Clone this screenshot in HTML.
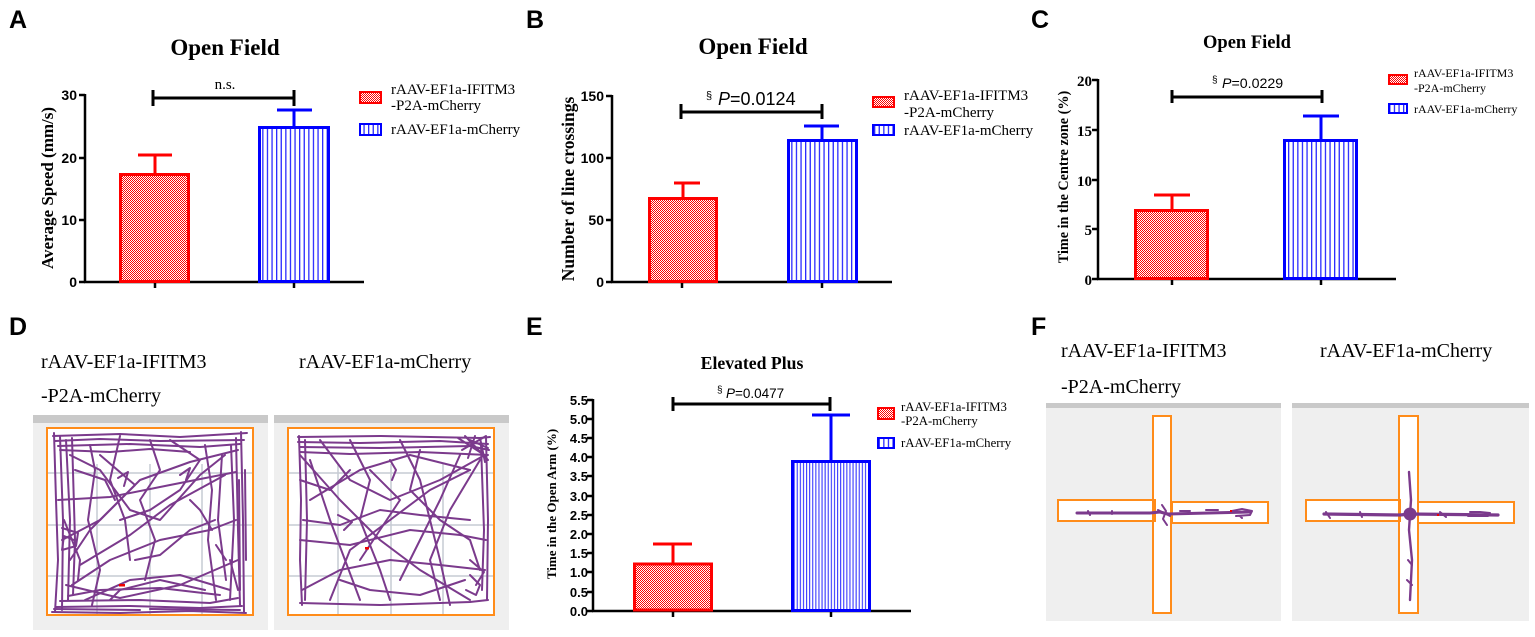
<!DOCTYPE html>
<html><head><meta charset="utf-8"><style>
html,body{margin:0;padding:0;background:#fff;}
svg{display:block;}
.lbl{font-family:"Liberation Sans",sans-serif;font-weight:bold;font-size:25px;fill:#000;}
.ttl{font-family:"Liberation Serif",serif;font-weight:bold;fill:#000;}
.tk{font-family:"Liberation Sans",sans-serif;font-weight:bold;font-size:14px;fill:#000;}
.tke{font-family:"Liberation Sans",sans-serif;font-weight:bold;font-size:13px;fill:#000;}
.tks{font-family:"Liberation Serif",serif;font-weight:bold;font-size:15px;fill:#000;}
.ser{font-family:"Liberation Serif",serif;fill:#000;}
.san{font-family:"Liberation Sans",sans-serif;fill:#000;}
.tr{fill:none;stroke:#7b3a8c;stroke-width:2;stroke-linejoin:round;stroke-linecap:round;}
</style></head><body>
<svg width="1535" height="637" viewBox="0 0 1535 637" xmlns="http://www.w3.org/2000/svg">
<defs>
<pattern id="chk" width="2" height="2" patternUnits="userSpaceOnUse">
<rect width="2" height="2" fill="#fff"/><rect width="1" height="1" fill="#f00"/><rect x="1" y="1" width="1" height="1" fill="#f00"/>
</pattern>
<pattern id="str" width="4.6" height="10" patternUnits="userSpaceOnUse">
<rect width="4.6" height="10" fill="#fff"/><rect x="0" width="1.3" height="10" fill="#2a2aff"/>
</pattern>
<pattern id="str2" width="3.1" height="10" patternUnits="userSpaceOnUse">
<rect width="3.1" height="10" fill="#fff"/><rect x="0" width="1.1" height="10" fill="#3a3aff"/>
</pattern>
</defs>

<!-- Panel letters -->
<text class="lbl" x="9" y="28">A</text>
<text class="lbl" x="526" y="28">B</text>
<text class="lbl" x="1031" y="28">C</text>
<text class="lbl" x="9" y="335">D</text>
<text class="lbl" x="526" y="335">E</text>
<text class="lbl" x="1031" y="335">F</text>

<!-- ===== Panel A ===== -->
<text class="ttl" x="225" y="55" font-size="23" text-anchor="middle">Open Field</text>
<text class="ttl" transform="translate(53,188) rotate(-90)" font-size="17" text-anchor="middle">Average Speed (mm/s)</text>
<g stroke="#000" stroke-width="2.5" fill="none">
<line x1="85" y1="94" x2="85" y2="283"/>
<line x1="84" y1="282" x2="364" y2="282"/>
<line x1="79" y1="95" x2="85" y2="95"/><line x1="79" y1="158" x2="85" y2="158"/><line x1="79" y1="220" x2="85" y2="220"/><line x1="79" y1="282" x2="85" y2="282"/>
<line x1="155" y1="282" x2="155" y2="288"/><line x1="294" y1="282" x2="294" y2="288"/>
</g>
<text class="tk" x="77" y="100" text-anchor="end">30</text>
<text class="tk" x="77" y="163" text-anchor="end">20</text>
<text class="tk" x="77" y="225" text-anchor="end">10</text>
<text class="tk" x="77" y="287" text-anchor="end">0</text>
<rect x="120.5" y="174.5" width="68" height="107" fill="url(#chk)" stroke="#f00" stroke-width="3"/>
<g stroke="#f00" stroke-width="3"><line x1="155" y1="174" x2="155" y2="155"/><line x1="138" y1="155" x2="172" y2="155"/></g>
<rect x="259.5" y="127.5" width="69" height="154" fill="url(#str)" stroke="#00f" stroke-width="3"/>
<g stroke="#00f" stroke-width="3"><line x1="294" y1="127" x2="294" y2="110"/><line x1="277" y1="110" x2="312" y2="110"/></g>
<g stroke="#000" stroke-width="3"><line x1="153" y1="98" x2="294" y2="98"/><line x1="153" y1="90" x2="153" y2="106"/><line x1="294" y1="90" x2="294" y2="106"/></g>
<text class="ser" x="225" y="89" font-size="15" text-anchor="middle">n.s.</text>
<rect x="360" y="92" width="21" height="11" fill="url(#chk)" stroke="#f00" stroke-width="2"/>
<text class="ser" x="391" y="94" font-size="15">rAAV-EF1a-IFITM3</text>
<text class="ser" x="391" y="110" font-size="15">-P2A-mCherry</text>
<rect x="360" y="124" width="21" height="11" fill="url(#str)" stroke="#00f" stroke-width="2"/>
<text class="ser" x="391" y="134" font-size="15">rAAV-EF1a-mCherry</text>

<!-- ===== Panel B ===== -->
<text class="ttl" x="753" y="54" font-size="23" text-anchor="middle">Open Field</text>
<text class="ttl" transform="translate(574,189) rotate(-90)" font-size="17.5" text-anchor="middle">Number of line crossings</text>
<g stroke="#000" stroke-width="2.5" fill="none">
<line x1="612" y1="95" x2="612" y2="283"/>
<line x1="611" y1="282" x2="892" y2="282"/>
<line x1="606" y1="96" x2="612" y2="96"/><line x1="606" y1="158" x2="612" y2="158"/><line x1="606" y1="220" x2="612" y2="220"/><line x1="606" y1="282" x2="612" y2="282"/>
<line x1="682" y1="282" x2="682" y2="288"/><line x1="822" y1="282" x2="822" y2="288"/>
</g>
<text class="tk" x="604" y="101" text-anchor="end">150</text>
<text class="tk" x="604" y="163" text-anchor="end">100</text>
<text class="tk" x="604" y="225" text-anchor="end">50</text>
<text class="tk" x="604" y="287" text-anchor="end">0</text>
<rect x="649.5" y="198.5" width="67" height="83" fill="url(#chk)" stroke="#f00" stroke-width="3"/>
<g stroke="#f00" stroke-width="3"><line x1="683" y1="198" x2="683" y2="183"/><line x1="674" y1="183" x2="700" y2="183"/></g>
<rect x="788.5" y="140.5" width="68" height="141" fill="url(#str)" stroke="#00f" stroke-width="3"/>
<g stroke="#00f" stroke-width="3"><line x1="822" y1="140" x2="822" y2="126"/><line x1="804" y1="126" x2="839" y2="126"/></g>
<g stroke="#000" stroke-width="3"><line x1="681" y1="112" x2="822" y2="112"/><line x1="681" y1="104" x2="681" y2="119"/><line x1="822" y1="104" x2="822" y2="119"/></g>
<text class="san" x="706" y="99" font-size="11">§</text>
<text class="san" x="718" y="105" font-size="18"><tspan font-style="italic">P</tspan>=0.0124</text>
<rect x="873" y="97" width="21" height="10" fill="url(#chk)" stroke="#f00" stroke-width="2"/>
<text class="ser" x="904" y="100" font-size="15">rAAV-EF1a-IFITM3</text>
<text class="ser" x="904" y="117" font-size="15">-P2A-mCherry</text>
<rect x="873" y="125" width="21" height="10" fill="url(#str)" stroke="#00f" stroke-width="2"/>
<text class="ser" x="904" y="135" font-size="15">rAAV-EF1a-mCherry</text>

<!-- ===== Panel C ===== -->
<text class="ttl" x="1247" y="48" font-size="18.5" text-anchor="middle">Open Field</text>
<text class="ttl" transform="translate(1068,177) rotate(-90)" font-size="14.2" text-anchor="middle">Time in the Centre zone (%)</text>
<g stroke="#000" stroke-width="2.5" fill="none">
<line x1="1098" y1="79" x2="1098" y2="280"/>
<line x1="1097" y1="279" x2="1396" y2="279"/>
<line x1="1092" y1="80" x2="1098" y2="80"/><line x1="1092" y1="130" x2="1098" y2="130"/><line x1="1092" y1="180" x2="1098" y2="180"/><line x1="1092" y1="229" x2="1098" y2="229"/><line x1="1092" y1="279" x2="1098" y2="279"/>
<line x1="1172" y1="279" x2="1172" y2="285"/><line x1="1321" y1="279" x2="1321" y2="285"/>
</g>
<text class="tks" x="1092" y="86" text-anchor="end">20</text>
<text class="tks" x="1092" y="136" text-anchor="end">15</text>
<text class="tks" x="1092" y="186" text-anchor="end">10</text>
<text class="tks" x="1092" y="235" text-anchor="end">5</text>
<text class="tks" x="1092" y="285" text-anchor="end">0</text>
<rect x="1135.5" y="210.5" width="72" height="68" fill="url(#chk)" stroke="#f00" stroke-width="3"/>
<g stroke="#f00" stroke-width="3"><line x1="1172" y1="210" x2="1172" y2="195"/><line x1="1154" y1="195" x2="1190" y2="195"/></g>
<rect x="1284.5" y="140.5" width="72" height="138" fill="url(#str)" stroke="#00f" stroke-width="3"/>
<g stroke="#00f" stroke-width="3"><line x1="1321" y1="140" x2="1321" y2="116"/><line x1="1303" y1="116" x2="1339" y2="116"/></g>
<g stroke="#000" stroke-width="3"><line x1="1172" y1="97" x2="1322" y2="97"/><line x1="1172" y1="90" x2="1172" y2="103"/><line x1="1322" y1="90" x2="1322" y2="103"/></g>
<text class="san" x="1212" y="83" font-size="10">§</text>
<text class="san" x="1222" y="88" font-size="14.2"><tspan font-style="italic">P</tspan>=0.0229</text>
<rect x="1389" y="75" width="18" height="9" fill="url(#chk)" stroke="#f00" stroke-width="2"/>
<text class="ser" x="1414" y="77" font-size="12">rAAV-EF1a-IFITM3</text>
<text class="ser" x="1414" y="92" font-size="12">-P2A-mCherry</text>
<rect x="1389" y="104" width="18" height="9" fill="url(#str)" stroke="#00f" stroke-width="2"/>
<text class="ser" x="1414" y="113" font-size="12">rAAV-EF1a-mCherry</text>

<!-- ===== Panel D ===== -->
<text class="ser" x="41" y="368" font-size="20">rAAV-EF1a-IFITM3</text>
<text class="ser" x="41" y="402" font-size="20">-P2A-mCherry</text>
<text class="ser" x="299" y="368" font-size="20">rAAV-EF1a-mCherry</text>
<rect x="33" y="415" width="235" height="215" fill="#efefef"/>
<rect x="33" y="415" width="235" height="8" fill="#c9c9c9"/>
<rect x="274" y="415" width="235" height="215" fill="#efefef"/>
<rect x="274" y="415" width="235" height="8" fill="#c9c9c9"/>
<rect x="47" y="428" width="206" height="187" fill="#fff" stroke="#ff8c1a" stroke-width="2"/>
<rect x="288" y="428" width="206" height="187" fill="#fff" stroke="#ff8c1a" stroke-width="2"/>
<g stroke="#c6cbd3" stroke-width="1.5">
<line x1="97" y1="464" x2="97" y2="614"/><line x1="150" y1="464" x2="150" y2="614"/><line x1="202" y1="464" x2="202" y2="614"/>
<line x1="48" y1="473" x2="252" y2="473"/><line x1="48" y1="525" x2="252" y2="525"/><line x1="48" y1="576" x2="252" y2="576"/>
<line x1="338" y1="464" x2="338" y2="614"/><line x1="391" y1="464" x2="391" y2="614"/><line x1="443" y1="464" x2="443" y2="614"/>
<line x1="289" y1="473" x2="493" y2="473"/><line x1="289" y1="525" x2="493" y2="525"/><line x1="289" y1="576" x2="493" y2="576"/>
</g>
<g class="tr">
<path d="M53 436 L120 434 L180 437 L247 433"/>
<path d="M55 441 L100 439 L160 441 L244 440"/>
<path d="M58 446 L130 444 L200 447 L240 444"/>
<path d="M60 450 L110 452 L150 449 L190 452"/>
<path d="M54 433 L56 500 L58 560 L55 612"/>
<path d="M60 436 L63 520 L62 610"/>
<path d="M66 440 L70 520 L68 600"/>
<path d="M72 438 L75 540 L73 595"/>
<path d="M62 528 L78 533 L76 546 L62 550 L64 536 L74 540"/>
<path d="M241 432 L243 520 L244 612"/>
<path d="M236 438 L238 530 L240 605"/>
<path d="M231 445 L234 520 L230 600"/>
<path d="M245 470 L246 560 M239 480 L240 590"/>
<path d="M52 612 L120 613 L190 611 L246 613"/>
<path d="M56 607 L130 606 L200 608 L242 606"/>
<path d="M60 601 L140 600 L210 603 L238 598"/>
<path d="M68 596 L100 590 L160 588 L220 595"/>
<path d="M54 609 L140 610 M150 609 L240 610"/>
<path d="M70 455 L100 470 L130 510 L160 520 L200 475 L225 455"/>
<path d="M62 540 L100 520 L140 480 L190 462 L238 450"/>
<path d="M72 585 L110 560 L160 540 L210 530 L236 520"/>
<path d="M80 565 L130 535 L170 505 L225 475"/>
<path d="M90 445 L95 470 L88 520 L100 570 L92 605"/>
<path d="M120 436 L110 480 L125 520 L130 560"/>
<path d="M150 440 L160 470 L140 500 L155 540 L145 580"/>
<path d="M58 500 L110 497 L170 485 L236 472"/>
<path d="M66 585 L120 598 L180 585 L238 560"/>
<path d="M205 445 L212 490 L208 540 L216 600"/>
<path d="M222 455 L218 520 L226 580"/>
<path d="M100 455 L135 485 L90 530 L70 560"/>
<path d="M85 600 L130 580 L180 575 L230 590"/>
<path d="M110 600 L120 590 L160 580 L205 590"/>
<path d="M170 440 L200 460 L180 490 L150 510 L120 520"/>
<path d="M135 560 L160 555 L190 530 L215 520"/>
<path d="M75 470 L105 480 L115 500"/>
<path d="M190 500 L200 510 L212 530"/>
<path d="M118 478 L128 472 L124 486 M180 475 L190 468 L186 480"/>
<path d="M64 520 L80 560 L78 580 M230 560 L238 590 M216 545 L226 560"/>
</g>
<rect x="119" y="584" width="6" height="2.5" fill="#e00"/>
<g class="tr">
<path d="M298 437 L380 436 L480 438 L490 437"/>
<path d="M298 442 L360 443 L440 441 L488 444"/>
<path d="M300 447 L380 448 L470 446 L489 450"/>
<path d="M300 452 L350 454 L420 452 L488 455"/>
<path d="M465 436 L488 460 M470 440 L488 448 M462 450 L486 436 M475 436 L468 458 M480 438 L485 462 M458 438 L486 456"/>
<path d="M299 436 L301 500 L300 560 L302 605"/>
<path d="M305 440 L307 520 L305 600"/>
<path d="M486 437 L488 520 L487 600"/>
<path d="M481 445 L484 530 L482 590"/>
<path d="M300 603 L380 605 L470 602 L488 600"/>
<path d="M300 455 L340 500 L380 540 L420 570 L470 600"/>
<path d="M310 460 L330 520 L345 560 L360 600"/>
<path d="M320 440 L350 480 L390 500 L440 480 L485 455"/>
<path d="M303 520 L340 525 L380 510 L420 515 L470 520"/>
<path d="M300 540 L350 545 L410 530 L460 535 L486 540"/>
<path d="M350 440 L370 480 L360 520 L380 570 L390 600"/>
<path d="M400 440 L420 480 L430 520 L440 560 L450 605"/>
<path d="M460 455 L440 500 L420 540 L400 580"/>
<path d="M480 460 L450 510 L430 560 L440 600"/>
<path d="M302 590 L340 570 L390 560 L440 565 L485 570"/>
<path d="M310 500 L360 470 L410 455 L470 470"/>
<path d="M330 600 L350 550 L390 520 L430 490 L470 470"/>
<path d="M370 470 L400 500 L380 530 L360 560"/>
<path d="M420 450 L410 490 L440 520 L470 540 L480 570"/>
<path d="M340 580 L370 590 L420 595 L465 580"/>
<path d="M300 480 L330 490 L350 470"/>
<path d="M470 575 L480 585 L476 595 L466 590"/>
<path d="M390 460 L396 470 L392 480 M338 515 L352 522 L344 530 M470 560 L484 572 L476 585"/>
</g>
<rect x="365" y="547" width="4" height="2.5" fill="#e00"/>

<!-- ===== Panel E ===== -->
<text class="ttl" x="752" y="369" font-size="17.7" text-anchor="middle">Elevated Plus</text>
<text class="ttl" transform="translate(556,504) rotate(-90)" font-size="13" text-anchor="middle">Time in the Open Arm (%)</text>
<g stroke="#000" stroke-width="2.5" fill="none">
<line x1="593" y1="399" x2="593" y2="612"/>
<line x1="592" y1="611" x2="911" y2="611"/>
<line x1="587" y1="400" x2="593" y2="400"/><line x1="587" y1="419" x2="593" y2="419"/><line x1="587" y1="438" x2="593" y2="438"/><line x1="587" y1="457" x2="593" y2="457"/><line x1="587" y1="476" x2="593" y2="476"/><line x1="587" y1="496" x2="593" y2="496"/><line x1="587" y1="515" x2="593" y2="515"/><line x1="587" y1="534" x2="593" y2="534"/><line x1="587" y1="553" x2="593" y2="553"/><line x1="587" y1="572" x2="593" y2="572"/><line x1="587" y1="592" x2="593" y2="592"/><line x1="587" y1="611" x2="593" y2="611"/>
<line x1="673" y1="611" x2="673" y2="617"/><line x1="831" y1="611" x2="831" y2="617"/>
</g>
<g class="tke">
<text x="588" y="405" text-anchor="end">5.5</text>
<text x="588" y="424" text-anchor="end">5.0</text>
<text x="588" y="443" text-anchor="end">4.5</text>
<text x="588" y="462" text-anchor="end">4.0</text>
<text x="588" y="481" text-anchor="end">3.5</text>
<text x="588" y="501" text-anchor="end">3.0</text>
<text x="588" y="520" text-anchor="end">2.5</text>
<text x="588" y="539" text-anchor="end">2.0</text>
<text x="588" y="558" text-anchor="end">1.5</text>
<text x="588" y="577" text-anchor="end">1.0</text>
<text x="588" y="597" text-anchor="end">0.5</text>
<text x="588" y="616" text-anchor="end">0.0</text>
</g>
<rect x="634.5" y="564" width="77" height="46" fill="url(#chk)" stroke="#f00" stroke-width="3"/>
<g stroke="#f00" stroke-width="3"><line x1="673" y1="564" x2="673" y2="544"/><line x1="653" y1="544" x2="692" y2="544"/></g>
<rect x="792.5" y="461.5" width="77" height="149" fill="url(#str2)" stroke="#00f" stroke-width="3"/>
<g stroke="#00f" stroke-width="3"><line x1="831" y1="461" x2="831" y2="415"/><line x1="812" y1="415" x2="850" y2="415"/></g>
<g stroke="#000" stroke-width="3"><line x1="673" y1="404" x2="830" y2="404"/><line x1="673" y1="397" x2="673" y2="411"/><line x1="830" y1="397" x2="830" y2="411"/></g>
<text class="san" x="717" y="393" font-size="10">§</text>
<text class="san" x="726" y="398" font-size="13.5"><tspan font-style="italic">P</tspan>=0.0477</text>
<rect x="878" y="408" width="16" height="11" fill="url(#chk)" stroke="#f00" stroke-width="2"/>
<text class="ser" x="901" y="411" font-size="12.8">rAAV-EF1a-IFITM3</text>
<text class="ser" x="901" y="425" font-size="12.8">-P2A-mCherry</text>
<rect x="878" y="438" width="16" height="10" fill="url(#str)" stroke="#00f" stroke-width="2"/>
<text class="ser" x="901" y="447" font-size="12.8">rAAV-EF1a-mCherry</text>

<!-- ===== Panel F ===== -->
<text class="ser" x="1061" y="357" font-size="20">rAAV-EF1a-IFITM3</text>
<text class="ser" x="1061" y="393" font-size="20">-P2A-mCherry</text>
<text class="ser" x="1320" y="357" font-size="20">rAAV-EF1a-mCherry</text>
<rect x="1046" y="403" width="235" height="218" fill="#efefef"/>
<rect x="1046" y="403" width="235" height="5" fill="#c9c9c9"/>
<rect x="1292" y="403" width="237" height="218" fill="#efefef"/>
<rect x="1292" y="403" width="237" height="5" fill="#c9c9c9"/>
<g fill="#fff" stroke="#ff8c1a" stroke-width="2">
<rect x="1153" y="416" width="18" height="197"/>
<rect x="1058" y="500" width="97" height="21"/>
<rect x="1172" y="502" width="96" height="21"/>
<rect x="1399" y="416" width="19" height="197"/>
<rect x="1306" y="500" width="94" height="21"/>
<rect x="1418" y="502" width="96" height="21"/>
</g>
<g fill="none" stroke="#ff8c1a" stroke-width="2">
<rect x="1153" y="416" width="18" height="197"/>
<rect x="1399" y="416" width="19" height="197"/>
</g>
<g fill="none" stroke="#7b3a8c" stroke-linecap="round" stroke-linejoin="round">
<path stroke-width="3" d="M1077 513 L1150 513 L1160 512 L1168 514 L1250 512"/>
<path stroke-width="2" d="M1088 511 L1090 515 M1112 511 L1112 514 M1162 505 L1166 511 L1163 519 L1167 525 M1158 510 L1170 516 M1180 511 L1190 511 M1206 510 L1218 510 M1232 511 L1242 509 L1252 511 L1250 515 L1236 516 M1240 516 L1242 518"/>
<path stroke-width="3.2" d="M1324 514 L1400 515 L1410 514 L1498 515"/>
<path stroke-width="2.4" d="M1409 472 L1411 500 L1409 530 L1412 560 L1410 600"/>
<path stroke-width="2" d="M1326 512 L1330 518 M1360 512 L1362 517 M1440 512 L1446 517 M1470 512 L1480 512 L1490 513 M1408 560 L1412 565 M1407 580 L1412 585 M1468 516 L1488 516"/>
</g>
<circle cx="1410" cy="514" r="6.5" fill="#7b3a8c"/>
<rect x="1230" y="510" width="2" height="2" fill="#e00"/>
<rect x="1437" y="514" width="2" height="2" fill="#e00"/>
</svg>
</body></html>
